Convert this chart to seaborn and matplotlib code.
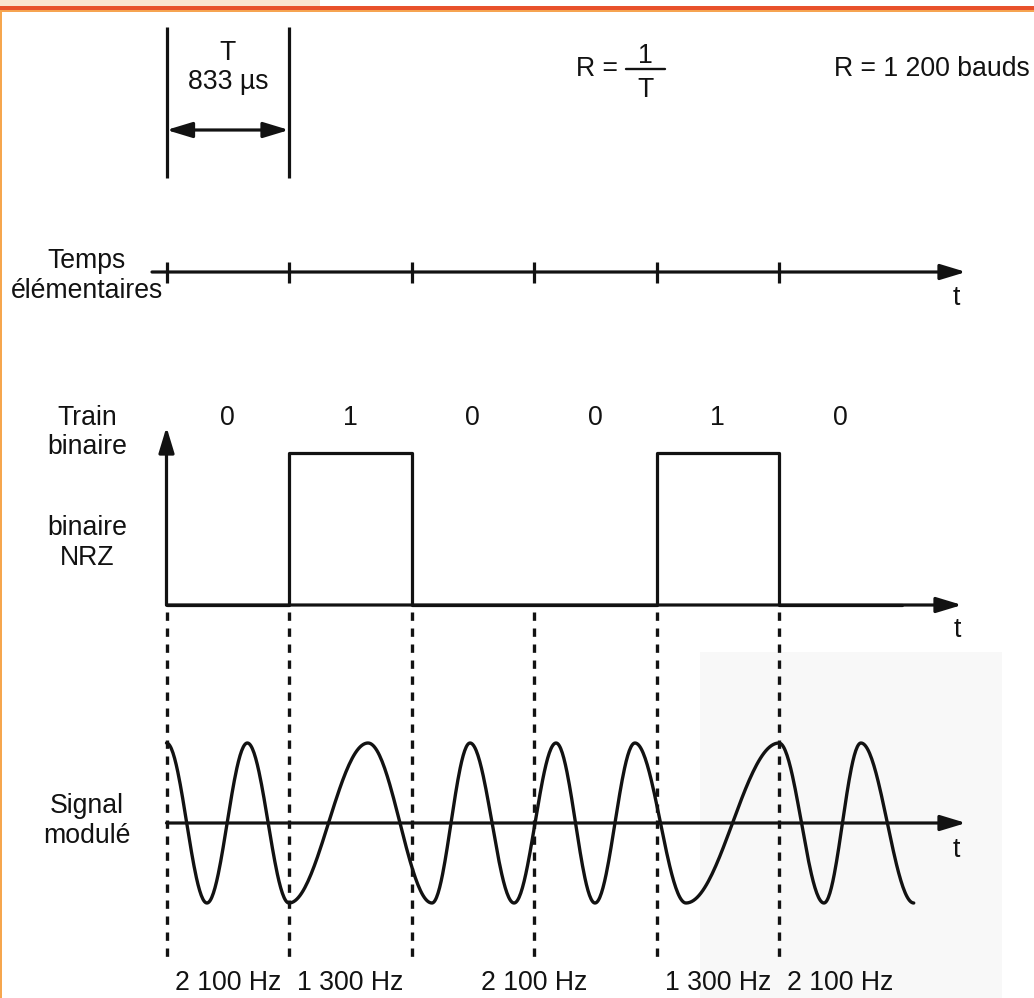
import numpy as np
import matplotlib
matplotlib.use("Agg")
import matplotlib.pyplot as plt
import seaborn as sns
from matplotlib.patches import Rectangle

# ---------------- data ----------------
bits = [0, 1, 0, 0, 1, 0]
freq_of_bit = {0: "2 100 Hz", 1: "1 300 Hz"}
period_text = ["T", "833 µs"]
rate_text = "R = 1 200 bauds"
row_labels = [["Temps", "élémentaires"], ["Train", "binaire"],
              ["binaire", "NRZ"], ["Signal", "modulé"]]
# extrema of the drawn modulated wave (time in units of T; +1 = crest, -1 = trough)
wave_t = [0.00, 0.33, 0.66, 1.00, 1.645, 2.167, 2.478, 2.837,
          3.18, 3.498, 3.824, 4.241, 5.00, 5.367, 5.669, 6.10]
wave_s = [1, -1, 1, -1, 1, -1, 1, -1, 1, -1, 1, -1, 1, -1, 1, -1]

# ---------------- layout ----------------
W, H = 1034, 998
X0, DX = 166.5, 122.5          # pixel of t=0 and pixels per T
def px(x):
    return (x - X0) / DX

INK = "#121212"
LW = 2.3
FS = 19.2
Y_TIME = 272
NRZ_LOW, NRZ_HIGH = 605, 453
SIG_MID, SIG_AMP = 823, 80

sns.set_theme(style="white")
plt.rcParams["font.family"] = ["Liberation Sans", "DejaVu Sans"]

fig = plt.figure(figsize=(W / 100, H / 100), dpi=100)
ax = fig.add_axes([0, 0, 1, 1])
ax.set_xlim(px(0), px(W))
ax.set_ylim(H, 0)
ax.axis("off")
fig.patch.set_facecolor("white")

# page decoration (scan frame)
ax.add_patch(Rectangle((px(0), 0), px(320) - px(0), 6, color="#fbe4cf", lw=0, zorder=0))
ax.add_patch(Rectangle((px(0), 6), px(W) - px(0), 4, color="#e8512b", lw=0, zorder=1))
ax.add_patch(Rectangle((px(0), 10), px(W) - px(0), 1.5, color="#f6a451", lw=0, zorder=1))
ax.add_patch(Rectangle((px(0), 10), px(2.5) - px(0), H, color="#f6a64e", lw=0, zorder=1))
ax.add_patch(Rectangle((px(700), 652), px(1002) - px(700), H, color="#f8f8f8", lw=0, zorder=0))

def arrow(x0, y0, x1, y1, style="-|>", hl=1.55, hw=0.47):
    ax.annotate("", xy=(x1, y1), xytext=(x0, y0),
                arrowprops=dict(arrowstyle=f"{style},head_length={hl},head_width={hw}",
                                lw=LW, color=INK, shrinkA=0, shrinkB=0,
                                mutation_scale=10), zorder=3)

def txt(x, y, s, ha="center", **kw):
    ax.text(x, y, s, ha=ha, va="baseline", fontsize=FS, color=INK, **kw)

n_bits = len(bits)
bounds = np.arange(n_bits + 1)

# ---- period bracket ----
ax.vlines([bounds[0], bounds[1]], 27, 178, color=INK, lw=LW)
arrow(bounds[0], 130, bounds[1], 130, style="<|-|>", hl=1.55, hw=0.47)
txt(0.5, 60, period_text[0])
txt(0.5, 89, period_text[1])

# R = 1/T
txt(px(576), 76, "R =", ha="left")
txt(px(645), 63, "1")
txt(px(645), 97, "T")
ax.plot([px(626), px(665)], [69, 69], color=INK, lw=1.7)
txt(px(1030), 76, rate_text, ha="right")

# ---- row labels ----
lab_x = px(87)
txt(lab_x, 268, row_labels[0][0]); txt(lab_x, 298, row_labels[0][1])
txt(lab_x, 425, row_labels[1][0]); txt(lab_x, 454, row_labels[1][1])
txt(lab_x, 535, row_labels[2][0]); txt(lab_x, 565, row_labels[2][1])
txt(lab_x, 813, row_labels[3][0]); txt(lab_x, 843, row_labels[3][1])

# ---- time axis with elementary times ----
arrow(px(152), Y_TIME, px(966), Y_TIME)
ax.vlines(bounds[:-1], Y_TIME - 10, Y_TIME + 11, color=INK, lw=LW)
txt(px(956), 305, "t")

# ---- binary train (NRZ) ----
for i, b in enumerate(bits):
    txt(i + 0.5, 425, str(b))
arrow(0, NRZ_LOW, px(962), NRZ_LOW)
arrow(0, NRZ_LOW, 0, 427)
nrz_y = [NRZ_LOW - (NRZ_LOW - NRZ_HIGH) * b for b in bits + [bits[-1]]]
sns.lineplot(x=bounds, y=nrz_y, drawstyle="steps-post", color=INK, lw=LW,
             ax=ax, estimator=None, sort=False, zorder=4)
txt(px(957), 637, "t")

# ---- dotted bit boundaries ----
ax.vlines(bounds[:-1], 612, 958, color=INK, lw=2.4, linestyles=(0, (2.5, 2.3)), zorder=2)

# ---- modulated signal ----
xs, ys = [], []
for i in range(len(wave_t) - 1):
    t0, t1 = wave_t[i], wave_t[i + 1]
    a, b = wave_s[i], wave_s[i + 1]
    u = np.linspace(0, 1, 50, endpoint=(i == len(wave_t) - 2))
    xs.append(t0 + (t1 - t0) * u)
    ys.append((a + b) / 2 + (a - b) / 2 * np.cos(np.pi * u))
xs = np.concatenate(xs)
ys = SIG_MID - SIG_AMP * np.concatenate(ys)
arrow(0, SIG_MID, px(966), SIG_MID)
sns.lineplot(x=xs, y=ys, color=INK, lw=2.4, ax=ax, estimator=None, sort=False, zorder=4)
txt(px(956), 857, "t")

# ---- frequency labels per run of identical bits ----
start = 0
for i in range(1, n_bits + 1):
    if i == n_bits or bits[i] != bits[start]:
        txt((start + i) / 2, 990, freq_of_bit[bits[start]])
        start = i

fig.savefig("out.png", dpi=100, facecolor="white")
